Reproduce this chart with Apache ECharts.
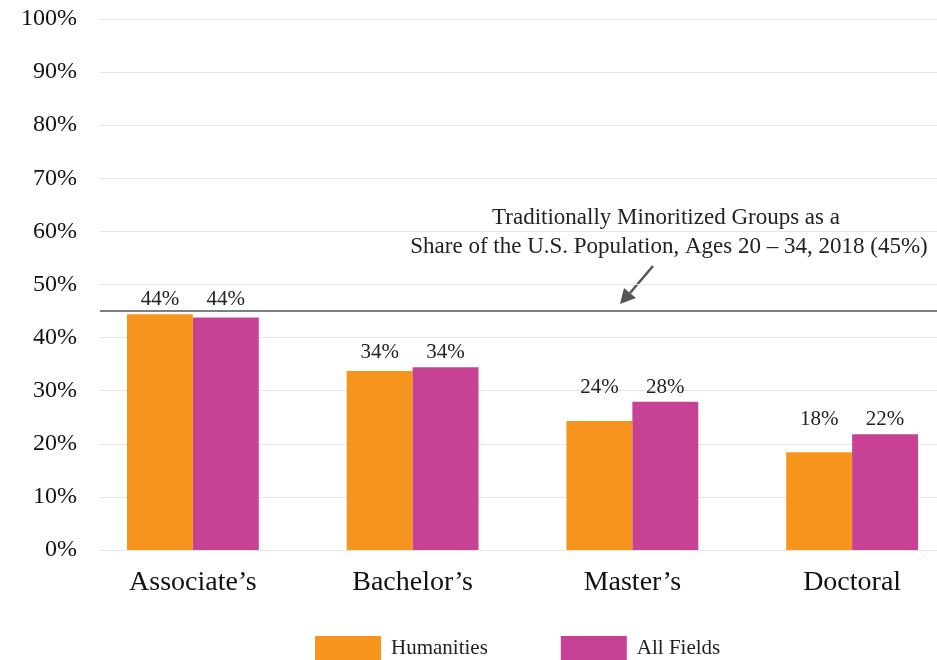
<!DOCTYPE html>
<html><head><meta charset="utf-8">
<script src="https://cdn.jsdelivr.net/npm/echarts@6/dist/echarts.min.js"></script>
<style>html,body{margin:0;padding:0;background:#fff}#c{width:937px;height:660px}</style>
</head><body><div id="c"></div>
<script>
const categories = ["Associate’s", "Bachelor’s", "Master’s", "Doctoral"];
const humanities = [44.4, 33.7, 24.3, 18.4];
const allFields = [43.8, 34.4, 27.9, 21.8];
const seriesNames = ["Humanities", "All Fields"];
const referenceValue = 45;
const annotationLines = ["Traditionally Minoritized Groups as a", "Share of the U.S. Population, Ages 20 – 34, 2018 (45%)"];

const FONT = "Liberation Serif";
const chart = echarts.init(document.getElementById('c'), null, {renderer: 'canvas'});
const TOP = 19, BOTTOM = 110, PX = (660 - TOP - BOTTOM) / 100;

function items(vals, other) {
  return vals.map((v, i) => {
    const mx = Math.max(vals[i], other[i]);
    return {value: v, label: {distance: 4 + (mx - v) * PX}};
  });
}
const labelCfg = {show: true, position: 'top', fontFamily: FONT, fontSize: 21, color: '#222',
  formatter: p => Math.round(p.value) + '%'};

chart.setOption({
  animation: false,
  grid: [
    {left: 83, width: 879, top: TOP, bottom: BOTTOM, outerBoundsMode: 'none', containLabel: false},
    {left: 100, right: 0, top: TOP, bottom: BOTTOM, outerBoundsMode: 'none', containLabel: false}
  ],
  xAxis: [
    {type: 'category', gridIndex: 0, data: categories, axisLine: {show: false}, axisTick: {show: false},
     axisLabel: {fontFamily: FONT, fontSize: 28, color: '#111', margin: 19}},
    {type: 'value', gridIndex: 1, min: 0, max: 1, show: false}
  ],
  yAxis: [
    {type: 'value', gridIndex: 0, min: 0, max: 100, interval: 10, show: false},
    {type: 'value', gridIndex: 1, min: 0, max: 100, interval: 10,
     axisLine: {show: false}, axisTick: {show: false},
     splitLine: {lineStyle: {color: '#e6e6e6', width: 1}},
     axisLabel: {fontFamily: FONT, fontSize: 24, color: '#111', margin: 23, formatter: '{value}%'}}
  ],
  legend: {bottom: 0, left: 315, itemWidth: 66, itemHeight: 24, itemGap: 73, padding: 0, icon: 'rect',
    textStyle: {fontFamily: FONT, fontSize: 21, color: '#222', padding: [3, 0, 0, 5]},
    data: seriesNames},
  series: [
    {name: seriesNames[0], type: 'bar', xAxisIndex: 0, yAxisIndex: 0, data: items(humanities, allFields),
     barGap: '0%', barCategoryGap: '40%', itemStyle: {color: '#F7941D'}, label: labelCfg},
    {name: seriesNames[1], type: 'bar', xAxisIndex: 0, yAxisIndex: 0, data: items(allFields, humanities),
     itemStyle: {color: '#C74294'}, label: labelCfg},
    {name: 'ref', type: 'line', xAxisIndex: 1, yAxisIndex: 1, data: [], silent: true,
     markLine: {symbol: 'none', silent: true, label: {show: false},
       lineStyle: {color: '#555', width: 1.5, type: 'solid'}, data: [{yAxis: referenceValue}]}}
  ],
  graphic: [
    {type: 'text', x: 666, y: 218, style: {text: annotationLines[0], font: '23px ' + FONT, fill: '#222', textAlign: 'center', textVerticalAlign: 'middle'}},
    {type: 'text', x: 669, y: 247, style: {text: annotationLines[1], font: '23px ' + FONT, fill: '#222', textAlign: 'center', textVerticalAlign: 'middle'}},
    {type: 'line', shape: {x1: 653, y1: 266, x2: 630, y2: 293}, style: {stroke: '#555', lineWidth: 2.5}},
    {type: 'polygon', shape: {points: [[620, 304], [624, 288], [636, 298]]}, style: {fill: '#555'}}
  ]
});
</script></body></html>
